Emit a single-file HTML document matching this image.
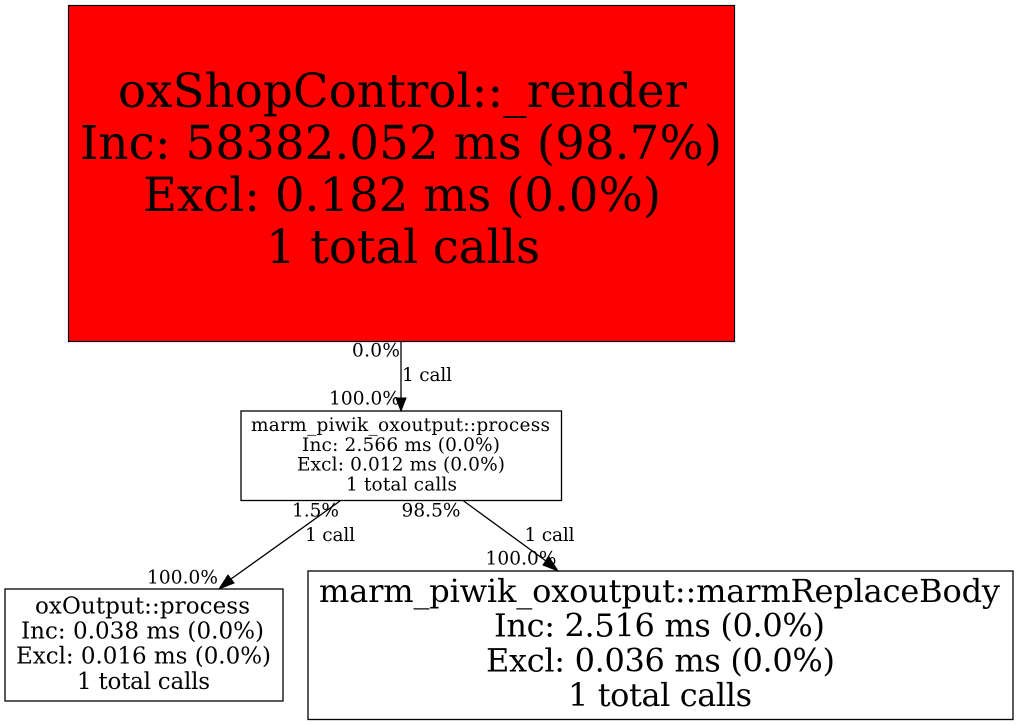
<!DOCTYPE html>
<html><head><meta charset="utf-8"><style>
html,body{margin:0;padding:0;background:#fff;width:1017px;height:725px;overflow:hidden}
svg{display:block}
text{font-family:"DejaVu Serif","Liberation Serif",serif;text-anchor:middle;fill:#000}
.a{font-size:46.500px}.b{font-size:18.500px}.c{font-size:23px}.d{font-size:32px}.l{font-size:18.500px}
</style></head><body>
<svg width="1017" height="725" viewBox="0 0 1017 725" xmlns="http://www.w3.org/2000/svg">
<rect width="1017" height="725" fill="#fff"/>
<rect x="68.500" y="5.500" width="666" height="336" fill="#f00" stroke="#000" stroke-width="1.200"/>
<rect x="241" y="411" width="320.500" height="89.500" fill="#fff" stroke="#000" stroke-width="1.300"/>
<rect x="5" y="589" width="278" height="112" fill="#fff" stroke="#000" stroke-width="1.300"/>
<rect x="308" y="571" width="705" height="148.500" fill="#fff" stroke="#000" stroke-width="1.300"/>

<g stroke="#000" stroke-width="1.300" fill="none">
<path d="M401 341.500V398"/>
<path d="M340 501L231 579"/>
<path d="M463 500.500L546 561"/>
</g>
<g fill="#000" stroke="#000">
<polygon points="396,398 406,398 401,411"/>
<polygon points="228,575 234,583 219,589"/>
<polygon points="549,557 543,565 558,571"/>
</g>

<text class="a" x="402.500" y="107" textLength="569">oxShopControl::_render</text>
<text class="a" x="401" y="159" textLength="642">Inc: 58382.052 ms (98.7%)</text>
<text class="a" x="402" y="211" textLength="518">Excl: 0.182 ms (0.0%)</text>
<text class="a" x="403" y="263" textLength="274">1 total calls</text>

<text class="b" x="400.500" y="431" textLength="299">marm_piwik_oxoutput::process</text>
<text class="b" x="401" y="451" textLength="198">Inc: 2.566 ms (0.0%)</text>
<text class="b" x="401" y="470.500" textLength="208">Excl: 0.012 ms (0.0%)</text>
<text class="b" x="401.500" y="490.500" textLength="111">1 total calls</text>

<text class="c" x="142.500" y="613.500" textLength="215">oxOutput::process</text>
<text class="c" x="142.500" y="638.500" textLength="243">Inc: 0.038 ms (0.0%)</text>
<text class="c" x="143.500" y="663.500" textLength="255">Excl: 0.016 ms (0.0%)</text>
<text class="c" x="143.500" y="689" textLength="133">1 total calls</text>

<text class="d" x="659.500" y="602" textLength="681">marm_piwik_oxoutput::marmReplaceBody</text>
<text class="d" x="659.500" y="636.500" textLength="331">Inc: 2.516 ms (0.0%)</text>
<text class="d" x="660.500" y="671.500" textLength="349">Excl: 0.036 ms (0.0%)</text>
<text class="d" x="660" y="706" textLength="184">1 total calls</text>

<text class="l" x="376" y="356.500" textLength="48">0.0%</text>
<text class="l" x="427" y="381" textLength="50">1 call</text>
<text class="l" x="364.500" y="404.500" textLength="71">100.0%</text>
<text class="l" x="315.500" y="516.500" textLength="47">1.5%</text>
<text class="l" x="431" y="516.500" textLength="59">98.5%</text>
<text class="l" x="330" y="541" textLength="50">1 call</text>
<text class="l" x="549.500" y="541" textLength="50">1 call</text>
<text class="l" x="521" y="564.500" textLength="71">100.0%</text>
<text class="l" x="182.500" y="583.500" textLength="71">100.0%</text>
</svg>
</body></html>
